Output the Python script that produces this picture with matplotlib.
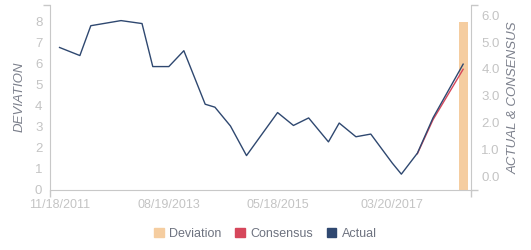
import numpy as np
import pandas as pd
import matplotlib
matplotlib.use("Agg")
import matplotlib.pyplot as plt
import matplotlib.dates as mdates
from matplotlib.patches import Patch
from matplotlib.ticker import FixedLocator

plt.rcParams['font.family'] = ['Liberation Sans', 'DejaVu Sans']

# data
dates = ["2011-11-18", "2012-03-16", "2012-05-19", "2012-11-12", "2013-03-15",
         "2013-05-17", "2013-08-19", "2013-11-15", "2014-03-20", "2014-05-16",
         "2014-08-15", "2014-11-17", "2015-03-13", "2015-05-18", "2015-08-19",
         "2015-11-16", "2016-03-11", "2016-05-13", "2016-08-19", "2016-11-14",
         "2017-03-20", "2017-05-12", "2017-08-14", "2017-11-14", "2018-05-09"]
actual = [4.80, 4.50, 5.61, 5.80, 5.69, 4.09, 4.09, 4.68, 2.69, 2.58,
          1.88, 0.78, 1.80, 2.38, 1.90, 2.18, 1.29, 1.99, 1.48, 1.58,
          0.50, 0.09, 0.87, 2.19, 4.18]
cons_dates = ["2017-08-14", "2017-11-14", "2018-05-09"]
consensus = [0.85, 2.12, 3.99]
dev_dates = ["2018-05-09"]
deviation = [7.97]
tick_dates = ["2011-11-18", "2013-08-19", "2015-05-18", "2017-03-20"]
tick_labels = ["11/18/2011", "08/19/2013", "05/18/2015", "03/20/2017"]

c_dev = "#f5cda0"
c_cons = "#d6475b"
c_act = "#2f4870"
c_axis = "#c8c8c8"
c_tick = "#c4c4c4"
c_title = "#7c808c"

fig = plt.figure(figsize=(5.31, 2.5), dpi=100)
ax = fig.add_axes([50 / 531, 60 / 250, 421 / 531, 185 / 250])
ax2 = ax.twinx()

d = pd.to_datetime(dates)
cd = pd.to_datetime(cons_dates)
dd = pd.to_datetime(dev_dates)

ax.bar(dd, deviation, width=53, color=c_dev, zorder=1)
ax2.plot(cd, consensus, color=c_cons, lw=1.0, zorder=3)
ax2.plot(d, actual, color=c_act, lw=1.0, zorder=4)

x0 = mdates.date2num(pd.Timestamp("2011-09-23"))
x1 = mdates.date2num(pd.Timestamp("2018-06-24"))
ax.set_xlim(x0, x1)
ax.set_ylim(0, 8.77)
ax2.set_ylim(-0.5, 6.38)

ax.set_xticks(mdates.date2num(pd.to_datetime(tick_dates)))
ax.set_xticklabels(tick_labels)
ax.set_yticks(range(0, 9))
ax2.set_yticks(np.arange(0, 7))
ax2.set_yticklabels([f"{v:.1f}" for v in range(0, 7)])

ax.tick_params(axis='x', length=0, pad=6.5, labelsize=9, labelcolor=c_tick)
ax.tick_params(axis='y', length=0, pad=5.5, labelsize=9.5, labelcolor=c_tick)
ax2.tick_params(axis='y', length=0, pad=7.5, labelsize=9.5, labelcolor=c_tick)

# small end ticks on the axis lines
ax.xaxis.set_minor_locator(FixedLocator([x0, x1]))
ax.yaxis.set_minor_locator(FixedLocator([0, 8.77]))
ax2.yaxis.set_minor_locator(FixedLocator([-0.5, 6.38]))
for a in (ax, ax2):
    a.tick_params(which='minor', length=5, width=1, color=c_axis)

for s in ("top", "right"):
    ax.spines[s].set_visible(False)
for s in ("top", "left", "bottom"):
    ax2.spines[s].set_visible(False)
ax.spines["left"].set_color(c_axis)
ax.spines["bottom"].set_color(c_axis)
ax2.spines["right"].set_color(c_axis)

fig.text(20 / 531, 1 - 97 / 250, "DEVIATION", rotation=90, ha='center', va='center',
         style='italic', fontsize=9.5, color=c_title)
fig.text(514 / 531, 1 - 97.5 / 250, "ACTUAL & CONSENSUS", rotation=90, ha='center',
         va='center', style='italic', fontsize=9.5, color=c_title)

handles = [Patch(color=c_dev, label="Deviation"),
           Patch(color=c_cons, label="Consensus"),
           Patch(color=c_act, label="Actual")]
leg = fig.legend(handles=handles, loc='center', bbox_to_anchor=(0.5, 1 - 234 / 250),
                 ncol=3, frameon=False, fontsize=9, handlelength=0.75, handleheight=0.75,
                 handletextpad=0.45, columnspacing=1.1)
for t in leg.get_texts():
    t.set_color("#6e7380")

fig.savefig("out.png", dpi=100)
